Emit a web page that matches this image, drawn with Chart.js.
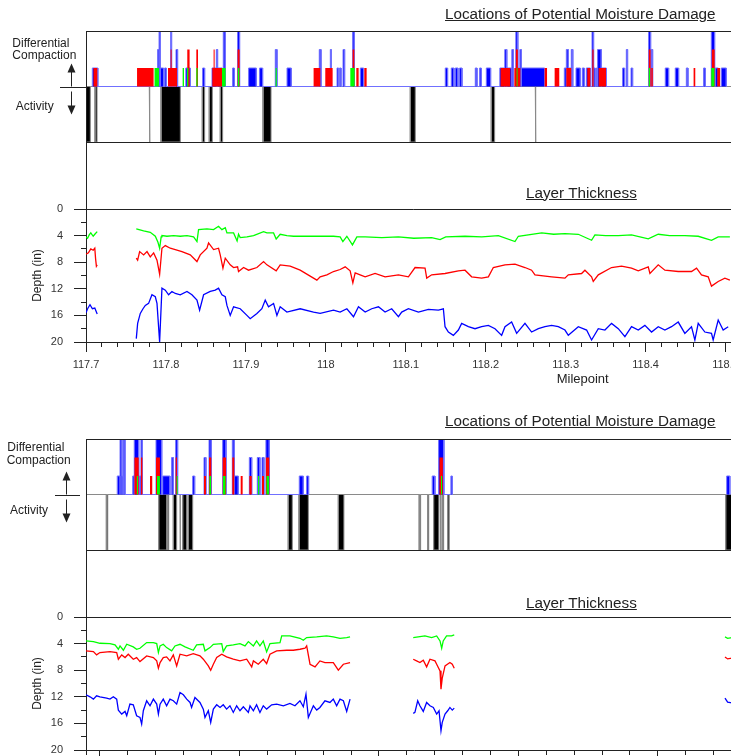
<!DOCTYPE html>
<html>
<head>
<meta charset="utf-8">
<script src="https://cdn.jsdelivr.net/npm/chart.js@4.4.1/dist/chart.umd.min.js"></script>
<style>
  html, body { margin: 0; padding: 0; background: #fff; }
  body { width: 731px; height: 756px; overflow: hidden; position: relative;
         font-family: "Liberation Sans", Arial, sans-serif; color: #222; }
  .cv { position: absolute; left: 0; }
  .txt { position: absolute; white-space: nowrap; line-height: 1; z-index: 2; }
  .ttl { font-size: 14px; text-decoration: underline; transform: scaleX(1.09); transform-origin: 0 0; }
  .lbl { font-size: 12px; }
  .axt { font-size: 13px; }
</style>
</head>
<body>
<script>
// ---------- panel 1 : milepoint 117.7 - 118.5 ----------
var p1Labels = ['117.7', '117.8', '117.9', '118', '118.1', '118.2', '118.3', '118.4', '118.5'];

// differential compaction bars [from, to, level]
var p1Blue = [
  [117.7079,117.7148,1],[117.7895,117.7913,2],[117.7913,117.7929,3],[117.7929,117.7970,1],
  [117.7983,117.8004,1],[117.8058,117.8070,3],[117.8125,117.8145,2],[117.8248,117.8304,1],
  [117.8458,117.8483,1],[117.8575,117.8629,1],[117.8629,117.8645,2],[117.8645,117.8704,1],
  [117.8716,117.8741,3],[117.8833,117.8854,1],[117.8895,117.8920,3],[117.9033,117.9129,1],
  [117.9170,117.9208,1],[117.9366,117.9388,2],[117.9513,117.9566,1],[117.9916,117.9938,2],
  [118.0054,118.0066,2],[118.0138,118.0158,1],[118.0170,118.0188,1],[118.0213,118.0233,2],
  [118.0333,118.0354,3],[118.0429,118.0470,1],[118.1491,118.1520,1],[118.1566,118.1600,1],
  [118.1616,118.1650,1],[118.1670,118.1700,1],[118.1866,118.1888,1],[118.1920,118.1941,1],
  [118.2004,118.2058,1],[118.2173,118.2235,1],[118.2235,118.2260,2],[118.2260,118.2323,1],
  [118.2323,118.2341,2],[118.2373,118.2398,3],[118.2398,118.2423,1],[118.2423,118.2441,2],
  [118.2441,118.2733,1],[118.2979,118.3004,1],[118.3004,118.3029,2],[118.3029,118.3066,1],
  [118.3066,118.3085,2],[118.3125,118.3179,1],[118.3204,118.3229,1],[118.3254,118.3304,1],
  [118.3325,118.3345,3],[118.3345,118.3366,1],[118.3379,118.3395,1],[118.3395,118.3441,2],
  [118.3441,118.3504,1],[118.3708,118.3733,1],[118.3754,118.3770,2],[118.3813,118.3833,1],
  [118.4033,118.4058,3],[118.4066,118.4083,2],[118.4241,118.4283,1],[118.4366,118.4408,1],
  [118.4504,118.4525,1],[118.4720,118.4741,1],[118.4816,118.4858,3],[118.4866,118.4904,1],
  [118.4941,118.5004,1]
];
var p1Red = [
  [117.7091,117.7141,1],[117.7638,117.7845,1],[117.8025,117.8058,1],[117.8058,117.8070,2],
  [117.8070,117.8138,1],[117.8266,117.8295,2],[117.8379,117.8400,2],[117.8579,117.8595,1],
  [117.8595,117.8608,2],[117.8608,117.8700,1],[117.8895,117.8920,2],[117.9845,117.9929,1],
  [117.9991,118.0083,1],[118.0333,118.0354,2],[118.0379,118.0408,1],[118.0479,118.0508,1],
  [118.2183,118.2304,1],[118.2354,118.2373,1],[118.2373,118.2398,2],[118.2398,118.2429,1],
  [118.2733,118.2763,1],[118.2858,118.2916,1],[118.3004,118.3066,1],[118.3266,118.3304,1],
  [118.3329,118.3345,2],[118.3408,118.3500,1],[118.4035,118.4058,2],[118.4066,118.4085,1],
  [118.4595,118.4616,1],[118.4823,118.4858,2],[118.4891,118.4929,1]
];
var p1Green = [
  [117.7854,117.7913,1],[117.8208,117.8225,1],[117.8263,117.8279,1],[117.8379,117.8395,1],
  [117.8700,117.8745,1],[117.8898,117.8916,1],[117.9370,117.9385,1],[118.0304,118.0358,1],
  [118.2383,118.2394,1],[118.4035,118.4050,1],[118.4816,118.4858,1]
];
// activity [from, to]
var p1Activity = [
  [117.7004,117.7054],[117.7113,117.7138],[117.7791,117.7800],[117.7938,117.8179],
  [117.8454,117.8483],[117.8541,117.8579],[117.8679,117.8708],[117.9213,117.9313],
  [118.1054,118.1116],[118.2066,118.2108],[118.2616,118.2624]
];
// layer thickness [milepoint, depth in]
var p1GreenLine = [
  [117.700,4.2],[117.702,4.4],[117.704,3.9],[117.706,3.6],[117.709,4.1],[117.711,3.8],[117.714,3.4],
  [117.74,null],
  [117.7629,3.0],[117.7721,3.3],[117.7804,3.5],[117.7867,4.1],[117.7900,5.0],[117.7921,5.9],[117.7940,4.2],
  [117.7950,4.0],[117.8013,4.1],[117.8096,4.0],[117.8179,4.1],[117.8263,4.0],[117.8346,4.2],[117.8388,4.9],
  [117.8408,3.1],[117.8513,3.0],[117.8596,3.1],[117.8658,2.6],[117.8700,3.1],[117.8742,2.8],[117.8763,3.6],
  [117.8846,3.6],[117.8890,4.8],[117.8908,3.8],[117.8929,4.3],[117.9013,4.2],[117.9096,4.0],[117.9221,3.4],
  [117.9263,3.6],[117.9346,3.6],[117.9379,4.5],[117.9429,3.8],[117.9513,4.0],[117.9596,4.1],[117.9763,4.1],
  [117.9929,4.1],[118.0096,4.1],[118.0179,4.2],[118.0213,4.9],[118.0263,4.1],[118.0333,5.4],[118.0388,4.2],
  [118.0492,4.2],[118.0700,4.3],[118.0908,4.2],[118.1100,4.4],[118.1324,4.3],[118.1429,4.6],[118.1500,4.2],
  [118.1741,4.1],[118.1950,4.2],[118.2158,4.0],[118.2366,4.9],[118.2408,4.1],[118.2700,3.6],[118.2850,3.8],
  [118.2991,3.7],[118.3158,3.8],[118.3324,4.7],[118.3366,3.9],[118.3500,4.0],[118.3658,4.0],[118.3824,3.9],
  [118.4033,4.5],[118.4158,3.8],[118.4300,4.0],[118.4491,4.0],[118.4658,4.1],[118.4824,4.7],[118.4908,4.2],
  [118.5054,4.2]
];
var p1RedLine = [
  [117.700,6.8],[117.703,6.6],[117.706,6.0],[117.709,6.2],[117.711,5.9],[117.712,7.5],[117.713,8.6],[117.714,8.4],
  [117.74,null],
  [117.7629,7.4],[117.7646,7.7],[117.7671,6.4],[117.7721,6.9],[117.7763,6.4],[117.7804,7.2],[117.7846,6.6],
  [117.7888,7.7],[117.7921,9.8],[117.7950,5.9],[117.7992,5.5],[117.8054,5.9],[117.8117,6.1],[117.8200,6.4],
  [117.8304,6.9],[117.8388,7.9],[117.8429,6.9],[117.8513,5.9],[117.8533,5.1],[117.8596,6.1],[117.8658,5.9],
  [117.8679,6.9],[117.8713,8.9],[117.8742,7.4],[117.8804,8.4],[117.8846,8.8],[117.8896,8.7],[117.8908,9.4],
  [117.8971,8.8],[117.9033,9.2],[117.9138,8.8],[117.9221,7.9],[117.9263,8.4],[117.9379,9.3],[117.9429,8.4],
  [117.9554,8.6],[117.9679,9.2],[117.9846,10.4],[117.9888,10.7],[117.9929,10.2],[118.0013,9.9],[118.0096,9.4],
  [118.0179,9.1],[118.0242,8.7],[118.0304,9.3],[118.0338,11.1],[118.0367,9.6],[118.0429,9.9],[118.0492,10.2],
  [118.0616,9.7],[118.0741,10.2],[118.0908,9.9],[118.1033,10.2],[118.1116,8.8],[118.1241,8.9],[118.1262,10.4],
  [118.1324,9.9],[118.1491,9.7],[118.1658,9.3],[118.1741,9.2],[118.1824,10.2],[118.1949,10.4],[118.2033,10.2],
  [118.2095,8.8],[118.2241,8.4],[118.2366,8.3],[118.2491,8.8],[118.2574,9.2],[118.2616,9.9],[118.2824,10.2],
  [118.2991,10.4],[118.3033,9.9],[118.3199,9.7],[118.3241,9.2],[118.3324,10.2],[118.3345,10.9],[118.3408,9.9],
  [118.3574,8.8],[118.3699,8.6],[118.3824,8.9],[118.3908,9.3],[118.4033,8.7],[118.4054,9.7],[118.4158,8.4],
  [118.4241,9.2],[118.4408,9.4],[118.4574,9.4],[118.4637,8.9],[118.4699,9.9],[118.4783,10.2],[118.4824,11.6],
  [118.4908,10.9],[118.4991,10.4],[118.5054,10.7]
];
var p1BlueLine = [
  [117.700,15.6],[117.702,15.0],[117.705,14.4],[117.708,15.0],[117.711,14.9],[117.714,15.8],
  [117.74,null],
  [117.7629,19.5],[117.7646,17.2],[117.7679,15.7],[117.7713,15.0],[117.7742,14.5],[117.7783,14.2],[117.7825,12.9],
  [117.7867,13.2],[117.7888,14.2],[117.7921,20.0],[117.7950,11.9],[117.7992,12.2],[117.8033,12.9],[117.8075,12.4],
  [117.8117,12.7],[117.8179,12.9],[117.8263,12.4],[117.8325,12.9],[117.8388,13.7],[117.8421,15.2],[117.8471,12.9],
  [117.8554,12.4],[117.8617,12.2],[117.8658,11.9],[117.8700,12.9],[117.8742,13.2],[117.8763,14.5],[117.8804,16.0],
  [117.8846,14.7],[117.8929,15.0],[117.9013,16.0],[117.9054,16.5],[117.9138,15.7],[117.9200,15.0],[117.9242,13.7],
  [117.9283,14.7],[117.9346,14.2],[117.9388,16.0],[117.9429,14.7],[117.9513,15.5],[117.9679,15.0],[117.9846,15.5],
  [117.9929,15.7],[118.0096,15.2],[118.0179,15.5],[118.0263,15.0],[118.0346,16.2],[118.0408,14.7],[118.0492,15.5],
  [118.0574,15.0],[118.0658,14.7],[118.0741,15.5],[118.0824,15.0],[118.0908,16.2],[118.0949,15.5],[118.1033,15.0],
  [118.1158,15.5],[118.1283,15.1],[118.1408,15.2],[118.1470,15.0],[118.1491,17.7],[118.1533,18.5],[118.1595,19.0],
  [118.1658,18.2],[118.1699,17.2],[118.1783,17.7],[118.1866,18.0],[118.1949,17.7],[118.2033,17.5],[118.2116,18.0],
  [118.2199,19.0],[118.2241,17.7],[118.2324,17.0],[118.2387,18.7],[118.2491,17.2],[118.2574,18.5],[118.2658,18.0],
  [118.2741,17.7],[118.2824,17.5],[118.2908,17.7],[118.2991,18.2],[118.3033,19.0],[118.3158,17.7],[118.3262,18.2],
  [118.3324,19.7],[118.3408,18.0],[118.3491,18.2],[118.3574,17.2],[118.3658,18.0],[118.3741,19.2],[118.3824,17.7],
  [118.3908,18.2],[118.3991,17.5],[118.4074,18.5],[118.4158,17.7],[118.4241,18.2],[118.4324,17.7],[118.4408,17.0],
  [118.4491,18.7],[118.4574,17.7],[118.4616,19.7],[118.4658,17.2],[118.4741,18.5],[118.4824,18.7],[118.4845,19.7],
  [118.4908,16.7],[118.4970,18.2],[118.5033,17.7]
];

// ---------- panel 2 ----------
var p2Labels = ['118.5', '118.6', '118.7', '118.8', '118.9'];

var p2Blue = [
  [118.5124,118.5144,1],[118.5144,118.5158,3],[118.5158,118.5167,1],[118.5167,118.5180,3],
  [118.5235,118.5246,1],[118.5246,118.5278,3],[118.5282,118.5294,1],[118.5294,118.5304,3],
  [118.5402,118.5443,3],[118.5450,118.5502,1],[118.5514,118.5526,2],[118.5543,118.5557,3],
  [118.5665,118.5679,1],[118.5746,118.5760,2],[118.5782,118.5798,3],[118.5880,118.5904,3],
  [118.5949,118.5963,3],[118.5963,118.5992,1],[118.6071,118.6088,2],[118.6128,118.6147,2],
  [118.6162,118.6176,2],[118.6190,118.6214,3],[118.6429,118.6458,1],[118.6482,118.6496,1],
  null,
  [118.7382,118.7402,1],[118.7428,118.7466,3],[118.7516,118.7526,1],
  null,
  [118.9493,118.9516,1]
];
var p2Red = [
  [118.5246,118.5278,2],[118.5294,118.5304,2],[118.5359,118.5375,1],[118.5402,118.5430,2],
  [118.5543,118.5552,2],[118.5746,118.5760,1],[118.5782,118.5798,2],[118.5880,118.5904,2],
  [118.5949,118.5963,2],[118.6009,118.6023,1],[118.6071,118.6088,1],[118.6162,118.6176,1],
  [118.6190,118.6214,2],[118.7434,118.7459,2]
];
var p2Green = [
  [118.5263,118.5273,1],[118.5409,118.5430,1],[118.5550,118.5557,1],[118.5785,118.5796,1],
  [118.5882,118.5900,1],[118.6133,118.6142,1],[118.6194,118.6212,1],[118.7445,118.7454,1]
];
var p2Activity = [
  [118.5046,118.5056],[118.5421,118.5479],[118.5483,118.5493],[118.5526,118.5550],
  [118.5574,118.5577],[118.5593,118.5622],[118.5633,118.5665],[118.6350,118.6379],
  [118.6427,118.6494],[118.6709,118.6749],[118.7289,118.7299],[118.7349,118.7357],
  [118.7392,118.7430],[118.7440,118.7445],[118.7454,118.7464],[118.7493,118.7504],
  [118.9486,118.9538]
];
var p2GreenLine = [
  [118.4900,3.6],[118.4953,3.7],[118.5000,3.95],[118.5072,4.0],[118.5108,4.2],[118.5132,4.85],[118.5144,4.35],
  [118.5168,5.0],[118.5192,4.1],[118.5239,4.5],[118.5263,4.85],[118.5287,4.7],[118.5335,3.85],[118.5383,3.85],
  [118.5407,4.0],[118.5419,5.35],[118.5431,4.35],[118.5454,4.1],[118.5478,4.6],[118.5514,5.1],[118.5538,4.35],
  [118.5574,4.1],[118.5610,4.5],[118.5669,5.0],[118.5693,4.2],[118.5741,4.1],[118.5753,5.1],[118.5789,4.6],
  [118.5813,4.1],[118.5873,4.0],[118.5884,5.2],[118.5908,4.35],[118.5956,4.2],[118.6004,4.0],[118.6040,4.35],
  [118.6064,3.7],[118.6100,4.35],[118.6123,3.6],[118.6147,4.35],[118.6171,3.6],[118.6195,5.25],[118.6219,4.0],
  [118.6291,3.85],[118.6303,2.85],[118.6362,2.85],[118.6434,3.2],[118.6458,3.5],[118.6482,3.1],[118.6554,3.0],
  [118.6625,2.85],[118.6673,3.0],[118.6721,3.2],[118.6769,3.1],[118.6793,3.0],
  [118.70,null],
  [118.7246,3.1],[118.7282,3.0],[118.7330,2.85],[118.7378,3.1],[118.7414,2.85],[118.7438,3.6],[118.7450,4.7],
  [118.7461,3.6],[118.7485,2.85],[118.7521,2.85],[118.7540,2.7],
  [118.85,null],
  [118.9481,3.0],[118.9500,3.2],[118.9530,3.1]
];
var p2RedLine = [
  [118.4900,5.1],[118.4953,5.2],[118.4976,5.7],[118.5000,5.35],[118.5072,5.2],[118.5120,5.35],[118.5132,6.35],
  [118.5156,5.7],[118.5180,6.1],[118.5203,5.6],[118.5239,6.35],[118.5263,6.1],[118.5287,6.7],[118.5335,5.85],
  [118.5383,6.1],[118.5407,6.6],[118.5419,7.7],[118.5431,6.85],[118.5454,6.1],[118.5478,6.0],[118.5502,6.6],
  [118.5526,5.7],[118.5550,7.35],[118.5574,5.6],[118.5622,5.85],[118.5669,5.5],[118.5717,5.85],[118.5741,6.35],
  [118.5777,7.35],[118.5794,8.0],[118.5813,7.1],[118.5837,6.1],[118.5873,5.6],[118.5908,6.0],[118.5956,6.35],
  [118.6004,6.6],[118.6052,6.35],[118.6088,7.5],[118.6100,6.6],[118.6135,7.1],[118.6171,6.35],[118.6195,7.0],
  [118.6219,5.6],[118.6267,5.1],[118.6339,5.0],[118.6386,5.0],[118.6434,4.85],[118.6470,4.7],[118.6482,4.35],
  [118.6506,7.1],[118.6542,7.5],[118.6577,6.6],[118.6613,6.85],[118.6673,6.85],[118.6709,8.0],[118.6745,7.1],
  [118.6793,6.85],
  [118.70,null],
  [118.7246,6.35],[118.7270,6.6],[118.7294,6.85],[118.7318,6.5],[118.7342,7.5],[118.7366,6.35],[118.7402,6.6],
  [118.7414,7.1],[118.7438,8.1],[118.7445,10.85],[118.7454,9.2],[118.7474,7.35],[118.7509,6.85],[118.7526,7.1],
  [118.7540,7.7],
  [118.85,null],
  [118.9481,6.0],[118.9500,6.3],[118.9530,6.2]
];
var p2BlueLine = [
  [118.4900,11.7],[118.4929,12.0],[118.4953,12.35],[118.4976,11.85],[118.5000,12.0],[118.5048,12.2],[118.5072,12.35],
  [118.5096,12.0],[118.5120,12.35],[118.5132,14.0],[118.5156,14.6],[118.5180,14.2],[118.5192,14.85],[118.5215,13.1],
  [118.5239,13.2],[118.5263,14.85],[118.5287,15.1],[118.5299,16.1],[118.5311,14.1],[118.5335,12.6],[118.5359,13.35],
  [118.5383,12.35],[118.5407,13.1],[118.5419,14.6],[118.5431,13.1],[118.5454,12.35],[118.5478,13.35],[118.5502,12.35],
  [118.5526,12.6],[118.5550,13.1],[118.5574,11.35],[118.5598,11.7],[118.5622,12.35],[118.5646,12.85],[118.5657,13.6],
  [118.5681,12.1],[118.5717,12.85],[118.5741,13.85],[118.5753,15.1],[118.5777,14.1],[118.5794,15.85],[118.5813,13.85],
  [118.5837,13.2],[118.5861,13.6],[118.5884,13.2],[118.5908,13.85],[118.5932,13.35],[118.5956,14.35],[118.5980,13.35],
  [118.6004,14.1],[118.6028,13.5],[118.6064,14.35],[118.6076,13.35],[118.6100,14.1],[118.6123,13.2],[118.6147,14.35],
  [118.6171,13.35],[118.6195,13.85],[118.6231,13.2],[118.6267,13.1],[118.6315,13.35],[118.6362,13.0],[118.6398,13.35],
  [118.6434,12.6],[118.6458,13.5],[118.6477,11.6],[118.6494,15.1],[118.6530,13.35],[118.6554,14.0],[118.6577,13.6],
  [118.6613,12.6],[118.6649,12.85],[118.6673,12.35],[118.6697,13.35],[118.6721,12.35],[118.6745,12.6],[118.6769,14.2],
  [118.6793,12.35],
  [118.70,null],
  [118.7246,14.5],[118.7258,14.35],[118.7278,12.6],[118.7294,13.35],[118.7318,14.2],[118.7342,12.85],[118.7366,13.35],
  [118.7390,13.6],[118.7414,14.6],[118.7431,14.1],[118.7445,17.1],[118.7454,15.85],[118.7474,14.6],[118.7493,14.1],
  [118.7509,13.6],[118.7526,14.0],[118.7540,13.7],
  [118.85,null],
  [118.9481,12.2],[118.9500,12.8],[118.9530,12.9]
];

var ACTIVITY_LEVEL = -3;
var ink = '#222';
var family = '"Liberation Sans", Arial, sans-serif';

var panels = [
  { oy: 0, xMin: 117.7, xMax: 118.52, tickStart: 117.72, tickStep: 0.02, labels: p1Labels,
    blue: p1Blue, red: p1Red, green: p1Green, act: p1Activity,
    gLine: p1GreenLine, rLine: p1RedLine, bLine: p1BlueLine,
    arrowX: 71.5, sep: [60, 86],
    texts: [
      ['Locations of Potential Moisture Damage', 'ttl', 445, 6.5],
      ['Differential', 'lbl', 12.3, 36.5], ['Compaction', 'lbl', 12.3, 49.1], ['Activity', 'lbl', 15.7, 99.8],
      ['Layer Thickness', 'ttl', 525.7, 185.5], ['Milepoint', 'axt', 556.7, 372.3]
    ] },
  { oy: 408, xMin: 118.49, xMax: 118.9603, tickStart: 118.50, tickStep: 0.02, labels: p2Labels,
    blue: p2Blue, red: p2Red, green: p2Green, act: p2Activity,
    gLine: p2GreenLine, rLine: p2RedLine, bLine: p2BlueLine,
    arrowX: 66.5, sep: [55, 80],
    texts: [
      ['Locations of Potential Moisture Damage', 'ttl', 445, 413.8],
      ['Differential', 'lbl', 7.3, 440.8], ['Compaction', 'lbl', 6.7, 453.8], ['Activity', 'lbl', 10, 504.1],
      ['Layer Thickness', 'ttl', 525.7, 595.5], ['Milepoint', 'axt', 556.7, 780]
    ] }
];

function stepPoints(segs, full, xMin, xMax) {
  var pts = full ? [{x: xMin, y: 0}] : [];
  segs.forEach(function (s) {
    if (s === null) { pts.push({x: pts[pts.length - 1].x, y: null}); return; }
    var h = s.length > 2 ? s[2] : ACTIVITY_LEVEL;
    pts.push({x: s[0], y: 0}, {x: s[0], y: h}, {x: s[1], y: h}, {x: s[1], y: 0});
  });
  if (full) pts.push({x: xMax, y: 0});
  return pts;
}
function linePoints(arr) { return arr.map(function (p) { return {x: p[0], y: p[1]}; }); }

function addCanvas(top, w, h) {
  var c = document.createElement('canvas');
  c.width = w; c.height = h;
  c.className = 'cv';
  c.style.top = top + 'px';
  c.style.width = w + 'px'; c.style.height = h + 'px';
  document.body.appendChild(c);
  return c;
}

function makePanel(p) {
  var minorTicks = [p.xMin];
  for (var v = p.tickStart; v <= p.xMax + 1e-9; v += p.tickStep) minorTicks.push(Math.round(v * 1000) / 1000);
  var majorTicks = p.labels.map(parseFloat);

  // moisture damage strip
  var c1 = addCanvas(p.oy, 745, 185);
  new Chart(c1, {
    type: 'line',
    data: { datasets: [
      { data: stepPoints(p.green), backgroundColor: '#00ff00', borderColor: 'rgba(0,0,0,0)', fill: 'origin' },
      { data: stepPoints(p.red), backgroundColor: '#ff0000', borderColor: 'rgba(0,0,0,0)', fill: 'origin' },
      { data: stepPoints(p.blue), backgroundColor: '#0000ff', borderColor: '#7070ff', fill: 'origin' },
      { data: stepPoints(p.act, true, p.xMin, p.xMax), backgroundColor: '#000', borderColor: '#8a8a8a', fill: 'origin' }
    ] },
    options: {
      responsive: false, animation: false, events: [],
      layout: { padding: { left: 86, right: 3, top: 31, bottom: 43 } },
      elements: { point: { radius: 0 }, line: { tension: 0, borderWidth: 1 } },
      plugins: { legend: { display: false }, tooltip: { enabled: false } },
      scales: {
        x: { type: 'linear', display: false, min: p.xMin, max: p.xMax },
        y: { display: false, min: -3, max: 3 }
      }
    },
    plugins: [{
      id: 'damageFrame',
      afterDatasetsDraw: function (chart) {
        var ctx = chart.ctx, a = chart.chartArea;
        var y0 = Math.round(chart.scales.y.getPixelForValue(0)) + 0.5;
        var ax = p.arrowX;
        ctx.save();
        ctx.strokeStyle = ink; ctx.fillStyle = ink; ctx.lineWidth = 1;
        ctx.beginPath();
        ctx.moveTo(a.left, a.top + 0.5); ctx.lineTo(a.right, a.top + 0.5);
        ctx.moveTo(a.left, a.bottom + 0.5); ctx.lineTo(a.right, a.bottom + 0.5);
        ctx.moveTo(a.left + 0.5, a.top); ctx.lineTo(a.left + 0.5, chart.height);
        ctx.moveTo(p.sep[0], y0); ctx.lineTo(p.sep[1], y0);
        ctx.moveTo(ax, y0 - 1); ctx.lineTo(ax, y0 - 17);
        ctx.moveTo(ax, y0 + 4); ctx.lineTo(ax, y0 + 20);
        ctx.stroke();
        ctx.beginPath();
        ctx.moveTo(ax, y0 - 24); ctx.lineTo(ax - 4, y0 - 15); ctx.lineTo(ax + 4, y0 - 15); ctx.closePath();
        ctx.moveTo(ax, y0 + 27); ctx.lineTo(ax - 4, y0 + 18); ctx.lineTo(ax + 4, y0 + 18); ctx.closePath();
        ctx.fill();
        ctx.restore();
      }
    }]
  });

  // layer thickness
  var c2 = addCanvas(p.oy + 185, 745, 215);
  var lineSet = function (arr, col) {
    return { data: linePoints(arr), borderColor: col, backgroundColor: col, borderWidth: 1.3,
             xAxisID: 'x', yAxisID: 'y', fill: false };
  };
  new Chart(c2, {
    type: 'line',
    data: { datasets: [lineSet(p.gLine, '#00ff00'), lineSet(p.rLine, '#ff0000'), lineSet(p.bLine, '#0000ff')] },
    options: {
      responsive: false, animation: false, events: [],
      layout: { padding: { left: 0, right: 3, top: 24, bottom: 0 } },
      elements: { point: { radius: 0 }, line: { tension: 0 } },
      plugins: { legend: { display: false }, tooltip: { enabled: false } },
      scales: {
        x: {
          type: 'linear', position: 'bottom', min: p.xMin, max: p.xMax, weight: 1,
          afterBuildTicks: function (ax) { ax.ticks = majorTicks.map(function (t) { return {value: t}; }); },
          afterFit: function (ax) { ax.height = 58; },
          ticks: {
            autoSkip: false, maxRotation: 0, minRotation: 0, padding: 6, color: '#333',
            font: { family: family, size: 11 },
            callback: function (val) {
              for (var i = 0; i < p.labels.length; i++) {
                if (Math.abs(parseFloat(p.labels[i]) - val) < 1e-6) return p.labels[i];
              }
              return '';
            }
          },
          grid: { drawOnChartArea: false, tickLength: 10, color: ink },
          border: { color: ink }
        },
        x2: {
          type: 'linear', position: 'bottom', min: p.xMin, max: p.xMax, weight: 0,
          afterBuildTicks: function (ax) { ax.ticks = minorTicks.map(function (t) { return {value: t}; }); },
          afterFit: function (ax) { ax.height = 0; },
          ticks: { display: false, autoSkip: false },
          grid: { drawOnChartArea: false, tickLength: 5, color: ink },
          border: { display: false }
        },
        y: {
          position: 'left', reverse: true, min: 0, max: 20, weight: 1,
          afterFit: function (ax) { ax.width = 86; },
          ticks: { stepSize: 4, padding: 11, color: '#333', font: { family: family, size: 11 } },
          grid: { drawOnChartArea: false, tickLength: 12, color: ink },
          border: { color: ink },
          title: { display: true, text: 'Depth (in)', color: ink, padding: { top: 30, bottom: 0 },
                   font: { family: family, size: 12 } }
        },
        y2: {
          position: 'left', reverse: true, min: 0, max: 20, weight: 0,
          afterFit: function (ax) { ax.width = 0; },
          ticks: { stepSize: 2, display: false },
          grid: { drawOnChartArea: false, tickLength: 5, color: ink },
          border: { display: false }
        }
      }
    },
    plugins: [{
      id: 'thickFrame',
      afterDraw: function (chart) {
        var ctx = chart.ctx, a = chart.chartArea;
        ctx.save();
        ctx.strokeStyle = ink; ctx.lineWidth = 1;
        ctx.beginPath();
        ctx.moveTo(a.left, a.top + 0.5); ctx.lineTo(a.right, a.top + 0.5);
        ctx.moveTo(a.left + 0.5, 0); ctx.lineTo(a.left + 0.5, a.top);
        ctx.stroke();
        ctx.restore();
      }
    }]
  });

  p.texts.forEach(function (t) {
    var s = document.createElement('div');
    s.className = 'txt ' + t[1];
    s.textContent = t[0];
    s.style.left = t[2] + 'px';
    s.style.top = t[3] + 'px';
    document.body.appendChild(s);
  });
}

panels.forEach(makePanel);
</script>
</body>
</html>
